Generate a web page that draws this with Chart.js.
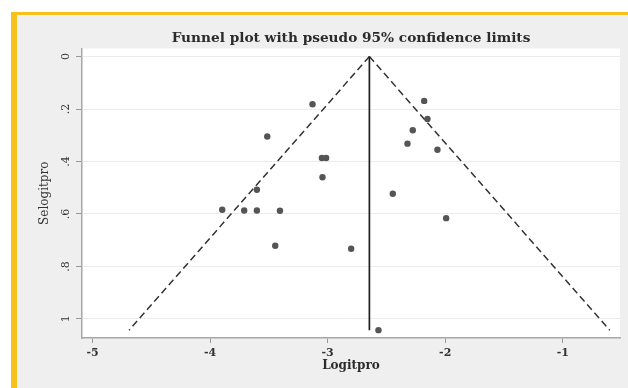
<!DOCTYPE html>
<html>
<head>
<meta charset="utf-8">
<script src="https://cdn.jsdelivr.net/npm/chart.js@4"></script>
<style>
  html, body { margin: 0; padding: 0; background: #ffffff; }
  #wrap { position: relative; width: 628px; height: 388px; overflow: hidden; }
  #frame {
    position: absolute; left: 11px; top: 12px; right: 0; bottom: 0;
    background: #efefef;
    border-top: 3px solid #f5c21b;
    border-left: 6px solid #f5c21b;
  }
  #c { position: absolute; left: 0; top: 0; }
</style>
</head>
<body>
<div id="wrap">
  <div id="frame"></div>
  <canvas id="c" width="628" height="388"></canvas>
</div>
<script>
// axis ticks
const xTicks = [-5, -4, -3, -2, -1];
const xTickLabels = ['-5', '-4', '-3', '-2', '-1'];
const yTicks = [0, 0.2, 0.4, 0.6, 0.8, 1];
const yTickLabels = ['0', '.2', '.4', '.6', '.8', '1'];

// studies
const logitpro = [-3.129, -3.514, -3.049, -3.013, -3.044, -3.602, -3.897, -3.710, -3.602, -3.406,
                  -3.446, -2.800, -2.179, -2.151, -2.276, -2.321, -2.066, -2.446, -1.992, -2.568];
const selogitpro = [0.182, 0.305, 0.387, 0.387, 0.460, 0.508, 0.584, 0.587, 0.587, 0.588,
                    0.721, 0.733, 0.169, 0.238, 0.281, 0.332, 0.355, 0.523, 0.616, 1.043];

// pooled estimate and pseudo 95% limits
const pooledX = [-2.645, -2.645];
const funnelLeftX = [-2.645, -4.689];
const funnelRightX = [-2.645, -0.601];
const funnelSe = [0, 1.043];

const serif = "'DejaVu Serif', 'Liberation Serif', serif";

function pts(xs, ys) {
  return xs.map((x, i) => ({x: x, y: ys[i]}));
}

// white plot region on the grey frame
const plotBg = {
  id: 'plotBg',
  beforeDraw(chart) {
    const {ctx, chartArea: a} = chart;
    ctx.save();
    ctx.fillStyle = '#ffffff';
    ctx.fillRect(a.left, a.top, a.right - a.left, a.bottom - a.top);
    ctx.restore();
  }
};

new Chart(document.getElementById('c'), {
  type: 'scatter',
  data: {
    datasets: [
      {
        label: 'Studies',
        data: pts(logitpro, selogitpro),
        backgroundColor: '#555555',
        borderColor: '#555555',
        pointRadius: 3.2,
        pointBorderWidth: 0
      },
      {
        label: 'Pooled',
        data: pts(pooledX, funnelSe),
        showLine: true,
        borderColor: '#1e1e1e',
        borderWidth: 1.7,
        pointRadius: 0
      },
      {
        label: 'Lower limit',
        data: pts(funnelLeftX, funnelSe),
        showLine: true,
        borderColor: '#333333',
        borderWidth: 1.5,
        borderDash: [7, 4],
        pointRadius: 0
      },
      {
        label: 'Upper limit',
        data: pts(funnelRightX, funnelSe),
        showLine: true,
        borderColor: '#333333',
        borderWidth: 1.5,
        borderDash: [7, 4],
        pointRadius: 0
      }
    ]
  },
  options: {
    responsive: false,
    animation: false,
    layout: { padding: { left: 0, right: 8, top: 0, bottom: 0 } },
    plugins: {
      legend: { display: false },
      tooltip: { enabled: false },
      title: {
        display: true,
        fullSize: false,
        text: 'Funnel plot with pseudo 95% confidence limits',
        color: '#2b2b2b',
        font: { family: serif, size: 13.7, weight: 'bold' },
        padding: { top: 30, bottom: 2 }
      }
    },
    scales: {
      x: {
        type: 'linear',
        min: -5.09,
        max: -0.513,
        afterBuildTicks: (scale) => { scale.ticks = xTicks.map(v => ({value: v})); },
        afterFit: (scale) => { scale.height = 50; },
        ticks: {
          color: '#333333',
          font: { family: serif, size: 11, weight: 'bold' },
          padding: 4,
          callback: (value) => xTickLabels[xTicks.indexOf(value)]
        },
        grid: { drawOnChartArea: false, tickLength: 5, tickColor: '#999999' },
        border: { color: '#a8a8a8', width: 1.5 },
        title: {
          display: true,
          text: 'Logitpro',
          color: '#2b2b2b',
          font: { family: serif, size: 12, weight: 'bold' },
          padding: { top: 0, bottom: 15 }
        }
      },
      y: {
        type: 'linear',
        reverse: true,
        min: -0.031,
        max: 1.073,
        afterBuildTicks: (scale) => { scale.ticks = yTicks.map(v => ({value: v})); },
        afterFit: (scale) => { scale.width = 82; },
        ticks: {
          color: '#333333',
          font: { family: serif, size: 11 },
          minRotation: 90,
          maxRotation: 90,
          crossAlign: 'center',
          padding: 5,
          callback: (value) => yTickLabels[yTicks.indexOf(value)]
        },
        grid: { color: '#ececec', lineWidth: 1, tickLength: 6, tickColor: '#999999' },
        border: { color: '#a8a8a8', width: 1.5 },
        title: {
          display: true,
          text: 'Selogitpro',
          color: '#333333',
          font: { family: serif, size: 12 },
          padding: { top: 38, bottom: 0 }
        }
      }
    }
  },
  plugins: [plotBg]
});
</script>
</body>
</html>
